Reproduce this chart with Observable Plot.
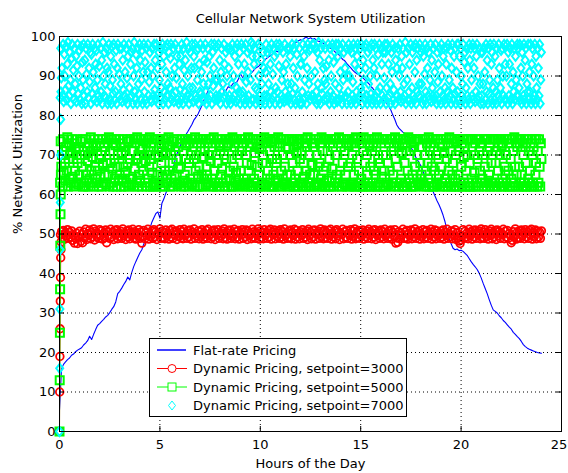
<!DOCTYPE html>
<html><head><meta charset="utf-8">
<script src="https://cdn.jsdelivr.net/npm/d3@7"></script>
<script src="https://cdn.jsdelivr.net/npm/@observablehq/plot@0.6"></script>
<style>
html,body{margin:0;padding:0;background:#fff;}
#chart{width:568px;height:473px;}
</style></head><body><div id="chart"></div>
<script>
const title = "Cellular Network System Utilization";
const xLabel = "Hours of the Day";
const yLabel = "% Network Utilization";
const xTicks = [0,5,10,15,20,25];
const yTicks = [0,10,20,30,40,50,60,70,80,90,100];
const seriesNames = ["Flat-rate Pricing","Dynamic Pricing, setpoint=3000","Dynamic Pricing, setpoint=5000","Dynamic Pricing, setpoint=7000"];

// Flat-rate pricing, one value every 0.1 h from 0 to 24
const flatStep = 0.1;
const flatRate = [
5.5,15.8,17.0,17.6,18.2,18.6,19.3,19.6,20.2,20.6,
20.9,21.2,21.9,22.4,23.0,24.1,23.3,24.6,25.8,26.9,
27.3,27.9,28.4,29.0,29.4,30.1,30.9,31.6,32.8,34.9,
35.5,36.3,37.2,38.0,39.1,38.4,40.3,41.8,43.0,44.1,
45.2,46.0,47.5,48.6,50.1,51.4,53.0,54.1,55.2,55.6,
54.0,57.8,58.9,60.4,61.6,63.9,65.8,67.5,69.6,71.0,
72.3,73.1,74.0,75.2,76.0,76.9,77.8,78.9,79.6,80.4,
81.5,82.6,84.0,85.1,86.3,87.4,88.6,89.5,89.8,89.0,
88.1,87.2,86.0,86.4,87.3,87.0,87.8,88.4,88.2,89.1,
90.6,89.8,89.2,89.6,89.4,90.5,91.0,91.6,92.1,92.4,
92.9,93.3,94.0,94.4,94.8,95.2,95.6,96.0,96.3,96.1,
96.5,96.8,97.1,97.0,97.5,97.4,97.8,98.2,98.6,98.9,
99.2,99.0,99.6,99.8,99.4,99.7,99.3,99.5,99.0,98.8,
98.7,98.4,98.1,97.9,97.5,97.0,96.8,96.2,95.8,95.4,
94.9,94.2,93.9,93.2,92.6,92.1,91.5,91.0,90.6,90.4,
90.0,89.6,89.1,88.5,88.1,87.4,86.9,86.2,85.6,85.0,
84.6,84.0,83.5,83.0,82.3,81.4,80.1,79.0,77.6,76.8,
76.3,75.8,75.4,74.6,73.1,72.0,71.0,69.8,69.0,68.1,
67.2,65.9,64.6,63.4,62.1,61.0,60.8,59.6,58.4,57.4,
56.2,54.8,53.1,51.0,48.9,47.6,46.4,46.0,46.2,45.8,
45.9,45.6,45.1,44.6,43.8,43.0,42.3,41.7,41.0,40.1,
38.9,37.5,36.2,34.9,33.4,32.0,30.8,30.4,30.0,29.3,
28.8,28.1,27.6,27.0,26.4,25.9,25.1,24.6,24.0,23.5,
22.8,22.0,21.5,21.1,20.8,20.6,20.4,20.2,20.0,19.9,
19.8];

// start-up transient (samples every 0.01 h from 0)
const startStep = 0.01;
const redStart = [0,10,19,26,33,39,44,46,48];
const greenStart = [0,13,25,36,47,55,60,65];
const cyanStart = [0,16,31,46,58,70,79,86];

// setpoint=3000, one value every 0.05 h from 0.05 to 24
const redStep = 0.05;
const red3000 = [
49.8,50.6,49.1,50.9,48.7,50.3,49.5,51.1,48.9,50.4,49.2,50.8,48.4,49.6,47.7,48.9,50.2,47.6,49.3,50.7,
48.1,49.9,47.8,50.5,49.0,51.2,48.6,50.1,49.7,51.0,48.8,50.4,49.3,51.3,48.5,50.7,49.4,50.0,48.9,51.1,
49.6,50.8,48.7,50.2,49.1,51.0,47.8,50.6,49.5,48.9,51.2,49.2,50.5,48.6,50.9,49.8,51.1,48.8,50.3,49.4,
50.7,48.9,51.3,49.5,50.1,48.6,50.8,49.3,51.0,48.8,50.4,49.7,51.2,49.0,50.6,48.7,50.2,49.6,51.1,48.9,
50.5,47.7,49.2,50.9,48.8,50.3,49.6,51.2,48.7,50.0,49.4,50.8,48.9,51.1,49.3,50.6,48.6,50.2,49.8,51.3,
48.9,50.7,49.1,50.4,48.8,51.0,49.5,50.1,48.7,50.9,49.2,51.2,48.9,50.5,49.7,50.8,48.6,50.3,49.4,51.1,
49.0,50.6,48.8,51.2,49.6,50.2,48.9,50.9,49.3,51.0,48.7,50.4,49.8,51.3,48.9,50.1,49.5,50.8,48.8,50.6,
49.4,51.1,48.7,50.3,49.2,50.9,48.9,51.2,49.6,50.0,48.8,50.7,49.3,51.0,48.6,50.5,49.7,51.1,48.9,50.2,
49.5,50.8,48.8,51.3,49.1,50.4,48.7,50.9,49.6,51.0,48.9,50.2,49.4,51.2,48.8,50.6,49.2,50.9,48.7,50.3,
49.8,51.1,48.9,50.5,49.3,51.0,48.6,50.7,49.5,50.1,48.8,51.2,49.2,50.6,48.9,50.3,49.7,51.3,48.7,50.8,
49.1,50.4,48.8,51.1,49.6,50.2,48.9,50.9,49.3,51.2,48.7,50.5,49.8,51.0,48.8,50.3,49.4,50.8,48.9,51.1,
49.2,50.6,48.7,51.3,49.5,50.0,48.9,50.7,49.1,51.0,48.8,50.4,49.6,51.2,48.7,50.9,49.3,50.2,48.8,50.6,
49.7,51.1,48.9,50.3,49.2,50.8,48.6,51.2,49.5,50.5,48.8,50.9,49.3,51.0,48.7,50.2,49.8,50.7,48.9,51.3,
49.4,50.6,48.8,51.0,49.1,50.4,48.9,50.9,49.6,51.2,48.7,50.1,49.3,50.8,48.8,51.1,49.5,50.5,48.6,50.3,
49.9,51.2,48.8,50.6,49.2,50.9,48.9,50.2,49.6,51.1,48.7,50.7,49.4,51.3,48.8,50.4,49.1,50.9,48.9,50.6,
49.5,51.0,48.7,50.3,49.3,50.8,48.9,51.2,49.7,50.5,48.8,50.9,49.2,51.1,48.6,50.2,49.6,50.7,48.9,51.0,
49.3,50.6,48.8,51.2,49.5,50.1,48.9,50.8,49.2,51.0,48.7,50.4,49.6,51.1,47.7,49.0,47.9,50.6,48.8,50.3,
49.7,51.2,48.9,50.5,49.1,50.9,48.7,50.2,49.5,51.0,48.8,50.7,49.3,51.3,48.9,50.4,49.6,50.8,48.7,50.1,
49.4,51.1,48.8,50.6,49.2,50.9,48.9,50.3,49.7,51.2,48.7,50.5,49.3,51.0,48.8,50.8,49.5,50.2,48.9,50.7,
49.2,51.0,48.7,50.4,49.6,51.2,48.9,50.1,49.3,50.8,48.8,50.6,49.5,51.1,48.6,50.3,49.0,48.2,47.6,48.5,
49.6,51.1,48.9,50.7,49.2,50.3,48.8,51.2,49.5,50.6,48.7,50.9,49.3,51.0,48.9,50.4,49.7,50.8,48.8,51.3,
49.1,50.5,48.9,51.1,49.4,50.2,48.7,50.8,49.6,51.2,48.8,50.4,49.3,50.9,48.6,51.0,49.5,50.6,48.9,50.3,
49.8,51.2,48.8,50.7,49.2,50.9,48.9,50.1,49.6,47.8,48.4,50.6,49.3,51.3,48.7,50.5,49.1,50.8,48.9,51.0,
49.5,50.4,48.8,51.1,49.3,50.6,48.9,50.9,49.7,51.2,48.7,50.3,49.4,51.0,48.8,50.7,49.2,50.5,48.9,50.8];

// setpoint=5000 and 7000, one value every 0.03 h from 0.03 to 24
const denseStep = 0.03;
const green5000 = [
63,73.5,67,70,62,74,65.5,71,68,63.5,72,66,74.5,62,69,73,64,70.5,63,72,
74,64.5,69,62,73,66,71.5,63,74,68,62.5,72,65,70,73.5,63,67,74,62,71,
62,70,74,65,63.5,72,68.5,62,73,64,71,74.5,66,63,69.5,72,62,74,67,64,
72.5,63,66,74,62,69,73,64.5,70,62,74,67.5,63,72,65,71,74,62.5,68,73,
65,74.5,62,71,68,63,74,66.5,62,73,69,64,72.5,74,62,67,70,63.5,74,65,
73,62,70.5,64,74,67,62,72,65.5,71,63,74,68,62,73.5,64,69,74,62.5,71,
64,71,74,62,66.5,73,69,63,74.5,62,70,65,72,63.5,74,68,62,71.5,66,74,
70,63,68.5,73,62,74,64,71,67,74.5,62,69,73,65.5,62,72,74,63,70,62.5,
62,74,65,69.5,72,63,74,62,68,71,64.5,74,62,73,66,70.5,63,74,65,72,
74.5,66,72,62,70,64,73.5,68,62,74,65,71,63,69,74,62.5,72,66.5,73,63,
67,62,73,74,63.5,71,62,65,74,69,72.5,63,74,62,68,73,64,70,62.5,74,
63,72,69,62,74.5,66,70,73,62,64.5,74,67,62,71,73,65,74,62,69.5,64,
71,74,62.5,67,65,73,63,74,70,62,68.5,74,64,72,62,74.5,66,63,73,70,
62,68,74,63,72.5,62,71,65,74,66.5,63,73,70,62,74,64,69,72.5,62,74,
73,63.5,66,74,62,69,74.5,62,67,72,74,63,65.5,74,70,62,73,64,71,62.5,
66,74,71,62,73,64,62.5,74,63,70,68,62,74.5,66,63,72,74,62,67.5,73,
74,62,64,70.5,74,63,72,67,62,74,65,71.5,62,73,74,63,68,70,62,74.5,
62.5,73,68,74,63,66,74,62,71,64,73.5,62,69,74,65,62,72,74,63.5,68,
69,64,74.5,62,72,73,62,66,74,63,70,74,62.5,67,72,63,74,65,62,71.5,
74,62,70,65,63,74,68,73.5,62,72,64,62,74,70.5,66,73,62,74,69,63,
63,71,74,62,68,64.5,73,62,74,66,72,74.5,63,62,70,65,74,62,73,67.5,
72,65,62,73,74,62.5,70,63,67,74,62,68,73,64,74.5,62,71,66,63,74,
62,74,67,63.5,71,74,62,69,73,62,74,64,66.5,72,62,74,63,70,74,65,
70,63,73,74.5,62,66,72,74,62,68,63,74,71,62.5,65,73,74,62,67,72.5,
74,62,68,62.5,73,70,63,74,65,62,72,74.5,62,69,74,63,66,73,62,74,
64,73,62,71,74.5,63,68,62,74,70,65,63,74,62,72.5,67,62,74,71,63,
73,66,74,62,65,72,74.5,62,69,63,74,68,62,73,64.5,74,70,62,66,74,
62,70,63,74,68,62.5,73,66,74,62,71,74,63,65,72,62,74.5,69,63,73,
67,74,62,72,63,74,64,70.5,62,73,74,62,68,74,63,71,62,66,74.5,64,
74,63,71,62,74,65,72,62,73.5,67,62,74,64,70,63,74,62.5,72,68,63,
65,72,74,63,62,70,74,66,62,73,68,64,74.5,62,71,73,63,67,74,62,
72,62,66,74,70,63,62.5,74,69,65,73,62,74,67,63,72,74,62,70.5,64,
63,74,69,62,73,66,74.5,63,71,62,74,65,68,73,62,74,64,70,62,73.5,
74,65,62,71,74,63,67,73,62,74,69.5,63,72,62,66,74,70,63,74,62,
68,62,74,64,72,74,62,70,65.5,73,62,74,63,69,74,62,71,66,73,63,
73,64,70,62,74,67,63,74,62,71,74,63.5,65,72,62,74,68,63,70,74,
62,74,63,68,71,62,74,66,73,63,70,74,62,72.5,64,73,62,74,67,65,
70,63,74,62,66,73,74,62,69,64,74,62,71,63,74.5,67,62,73,65,72,
74,62,67,73,63,74,65,62,72,70,63,74,62,68,73,62,74,64,71,63,
66,73,62,74,70,63,72,62,74,65,68,74,62,71,63,74,67,62,73,69];
const cyan7000 = [
84.5,97,89.5,92,85,98,83.5,95.5,90,86.5,97.5,84,93,98.5,87.5,85,96,89,83,94.5,
98,86,91.5,84,97,88,95,83.5,92.5,98,85.5,90,96.5,84,87,97.5,83,93.5,89,98,
85,94,83,97,90.5,86,98,84.5,92,88.5,96,83,95.5,85.5,98,91,84,97,87,93,
96.5,83.5,89,98,85,92.5,84,97,86,94,83,98.5,90,85,96,88,84.5,97,92,83,
91,98,84,87.5,95,83,97.5,89,85.5,98,93,84,86,96.5,83,92,98,85,90.5,97,
84,88,97,83.5,94,86.5,98,85,91,84,97,89.5,83,95,98,87,84.5,93,96,85,
97,83,90,98.5,86,84,95.5,92,83,97,88,85.5,98,94,84,89,96.5,83,91,98,
86,93.5,84,97,83,91,98,85,88.5,96,84,92,83.5,97,90,85,98,86.5,94,84,
98,85,92,83,96,89,84.5,97,87,93,98,83,95,86,84,97.5,91,85,98,88,
83,96,87,94.5,98,84,90,85,97,83.5,92,98,86,89.5,95,84,97,83,93,86.5,
95,84,98,88,83,97,91.5,86,94,84,98.5,85,90,97,83,87,96,84.5,92,98,
87,83.5,95,92,98,85,84,96.5,89,97,83,93,86,98,85.5,91,84,97,88,94,
84,98,86,83,93.5,97,88,84,95,90,85,98,83,96,87.5,92,98,84,89,85,
97.5,89,84,98,85,94,83,91,97,86,88,84.5,98,93,85,96,83,90,97,84,
92,85,97,83,96.5,88,98,84,90,85,95,97,83.5,87,98,84,93,86,96,83,
85.5,98,90,86,84,97,93,83,98,88.5,84,96,91,85,97,83,89,98.5,84,95,
98,84,93,97,87,83,95,86.5,84,98,90,85,97.5,83,94,88,84,96,92,85,
83,91,98,85,96,84.5,88,97,83,93,86,98,84,90.5,85,97,95,83,87,98,
96,86,84,92.5,98,83,97,85,89,84,96,91,83.5,98,86,93,84,97,88,85,
84,97,95,83,88,98,85.5,92,97,84,87,83,98,95.5,90,85,84,97,83,93,
93,83,86,98,84,95,89,84.5,97,83,92,98,85,88,96.5,84,97,90,85,98,
85,98,84,91,97,86,83,96,88,98.5,84,94,83,97,87,85.5,98,92,84,89,
97,88,92.5,84,85,98,94,83,97,86,90,84,98,85,93.5,83,96,88,98,84,
83.5,95,98,87,84,91,97,85,83,98,89,96,84.5,92,85,97,83,90,86,98,
90,84,97,83,96,85,88.5,98,84,93,97,83,86,95,98,84,91.5,85,97,87,
98,86,83,94,89,97.5,84,92,98,85,83,96,88,84,97,90,85.5,98,83,94,
84,92,98,85,97,83,90,86,95.5,84,98,87,83,97,93,85,96,84,89.5,98,
96,83,87,98,84.5,93,97,85,88,83,96,91,98,84,86.5,97,83,94,85,92,
85,97,84,90,98,86,83.5,95,92,97,84,88,85,98.5,83,96,89,84,97,86,
93,84,98,83,87,96,85,97.5,84,91,98,83,94,86,97,85,88,98,84.5,96,
88,97,83,95,84,90.5,98,86,83,97,92,85,96,84,89,98,83.5,94,87,85,
97,84,91,98,85,83,96,88.5,93,84,97,86,83,98,90,85,95,97,84,87,
83,93,97,86,98,84,89,85,96.5,83,92,98,87,84,95,85.5,97,83,91,98,
86,98,84,95,83,97,90,85,88,98,84,93.5,96,83,87,97,85,92,84,98,
94,83,97,89,85,98,84,92,97,83.5,86,95,98,84,90,85,97,88,83,96,
85,96,88,83,97,91,84,98,86,94,83,97,85.5,89,98,84,93,96,83,87,
98,84,95,86,83,97,89,85,98,92,84,87,96.5,83,97,90,85,98,84,93,
84,90,98,83,96,85,93,97,84,88,98,83,91,86,97,84,95,89,85,98,
97,85,87,98,84,92,83,96,90,85,98,84,94,97,83,88,86,98,84,91,
86,98,83,93,97,84,90,85,98,83,95,87,84,97,92,85,98,83,89,96];

const BLUE = "#0000ff", RED = "#ff0000", GREEN = "#00ff00", CYAN = "#00ffff";

const flatData = flatRate.map((v, i) => ({h: i * flatStep, v}));
const mk = (start, dense, step) =>
  start.map((v, i) => ({h: i * startStep, v})).concat(dense.map((v, i) => ({h: (i + 1) * step, v})));
const redData = mk(redStart, red3000, redStep);
const greenData = mk(greenStart, green5000, denseStep);
const cyanData = mk(cyanStart, cyan7000, denseStep);
const redStartData = redStart.map((v, i) => ({h: i * startStep, v}));
const greenStartData = greenStart.map((v, i) => ({h: i * startStep, v}));

const squareSym = {draw(ctx) { ctx.moveTo(-4, -4); ctx.lineTo(4, -4); ctx.lineTo(4, 4); ctx.lineTo(-4, 4); ctx.closePath(); }};
const diamondSym = {draw(ctx) { ctx.moveTo(0, -4.5); ctx.lineTo(3.5, 0); ctx.lineTo(0, 4.5); ctx.lineTo(-3.5, 0); ctx.closePath(); }};

const FONT = "'DejaVu Sans', Verdana, sans-serif";
const lastX = xTicks[xTicks.length - 1];

const chart = Plot.plot({
  width: 568, height: 473,
  marginLeft: 59, marginRight: 7, marginTop: 36, marginBottom: 42,
  style: {fontFamily: FONT, fontSize: "13px", background: "#fff", color: "#000", overflow: "visible"},
  x: {domain: [0, 25]},
  y: {domain: [0, 100]},
  marks: [
    Plot.line(flatData, {x: "h", y: "v", stroke: BLUE, strokeWidth: 1.1}),
    Plot.line(redStartData, {x: "h", y: "v", stroke: RED, strokeWidth: 1}),
    Plot.dot(redData, {x: "h", y: "v", r: 3.8, symbol: "circle", stroke: RED, fill: "none", strokeWidth: 1.8}),
    Plot.line(greenStartData, {x: "h", y: "v", stroke: GREEN, strokeWidth: 1}),
    Plot.dot(greenData, {x: "h", y: "v", symbol: squareSym, stroke: GREEN, fill: "none", strokeWidth: 2}),
    Plot.dot(cyanData, {x: "h", y: "v", symbol: diamondSym, stroke: CYAN, fill: "none", strokeWidth: 2}),
    Plot.gridX({ticks: xTicks.slice(1, -1), stroke: "#000", strokeOpacity: 1, strokeDasharray: "1,3"}),
    Plot.gridY({ticks: yTicks.slice(1, -1), stroke: "#000", strokeOpacity: 1, strokeDasharray: "1,3"}),
    Plot.ruleX(xTicks, {x: d => d, insetTop: 390, stroke: "#000"}),
    Plot.ruleX(xTicks, {x: d => d, insetBottom: 390, stroke: "#000"}),
    Plot.ruleY(yTicks, {y: d => d, insetRight: 497, stroke: "#000"}),
    Plot.ruleY(yTicks, {y: d => d, insetLeft: 497, stroke: "#000"}),
    Plot.frame({stroke: "#000"}),
    Plot.axisX({ticks: xTicks.slice(0, -1), tickSize: 0, tickPadding: 8, label: null, fontSize: 13}),
    Plot.axisX({ticks: [lastX], tickSize: 0, tickPadding: 8, label: null, fontSize: 13, dx: -2.5}),
    Plot.axisY({ticks: yTicks, tickSize: 0, tickPadding: 4, label: null, fontSize: 13}),
    Plot.text([title], {frameAnchor: "top", dy: -18, lineAnchor: "middle", fontSize: 13}),
    Plot.text([xLabel], {frameAnchor: "bottom", dy: 32, lineAnchor: "middle", fontSize: 13}),
    Plot.text([yLabel], {frameAnchor: "left", dx: -42, rotate: -90, lineAnchor: "middle", fontSize: 13})
  ]
});
document.getElementById("chart").appendChild(chart);

// legend box (MATLAB style)
const svg = d3.select(chart);
const lg = svg.append("g").attr("font-family", FONT).attr("font-size", 13).attr("text-anchor", "start");
const box = {x: 149.5, y: 338.5, w: 257, h: 78};
lg.append("rect").attr("x", box.x).attr("y", box.y).attr("width", box.w).attr("height", box.h)
  .attr("fill", "#fff").attr("stroke", "#000");
const colors = [BLUE, RED, GREEN, CYAN];
seriesNames.forEach((name, i) => {
  const cy = box.y + 11.5 + i * 18.5;
  const g = lg.append("g");
  if (i === 0) {
    g.append("line").attr("x1", 157).attr("x2", 186).attr("y1", cy).attr("y2", cy).attr("stroke", colors[i]).attr("stroke-width", 1.5);
  } else if (i < 3) {
    g.append("line").attr("x1", 157).attr("x2", 187).attr("y1", cy).attr("y2", cy).attr("stroke", colors[i]);
    if (i === 1) g.append("circle").attr("cx", 172).attr("cy", cy).attr("r", 4).attr("fill", "#fff").attr("stroke", colors[i]);
    else g.append("rect").attr("x", 168).attr("y", cy - 4).attr("width", 8).attr("height", 8).attr("fill", "#fff").attr("stroke", colors[i]);
  } else {
    g.append("path").attr("d", `M172,${cy-4.5}L175.5,${cy}L172,${cy+4.5}L168.5,${cy}Z`).attr("fill", "#fff").attr("stroke", colors[i]);
  }
  g.append("text").attr("x", 193).attr("y", cy).attr("dy", "0.35em").attr("text-anchor", "start").attr("fill", "#000").text(name);
});
</script></body></html>
